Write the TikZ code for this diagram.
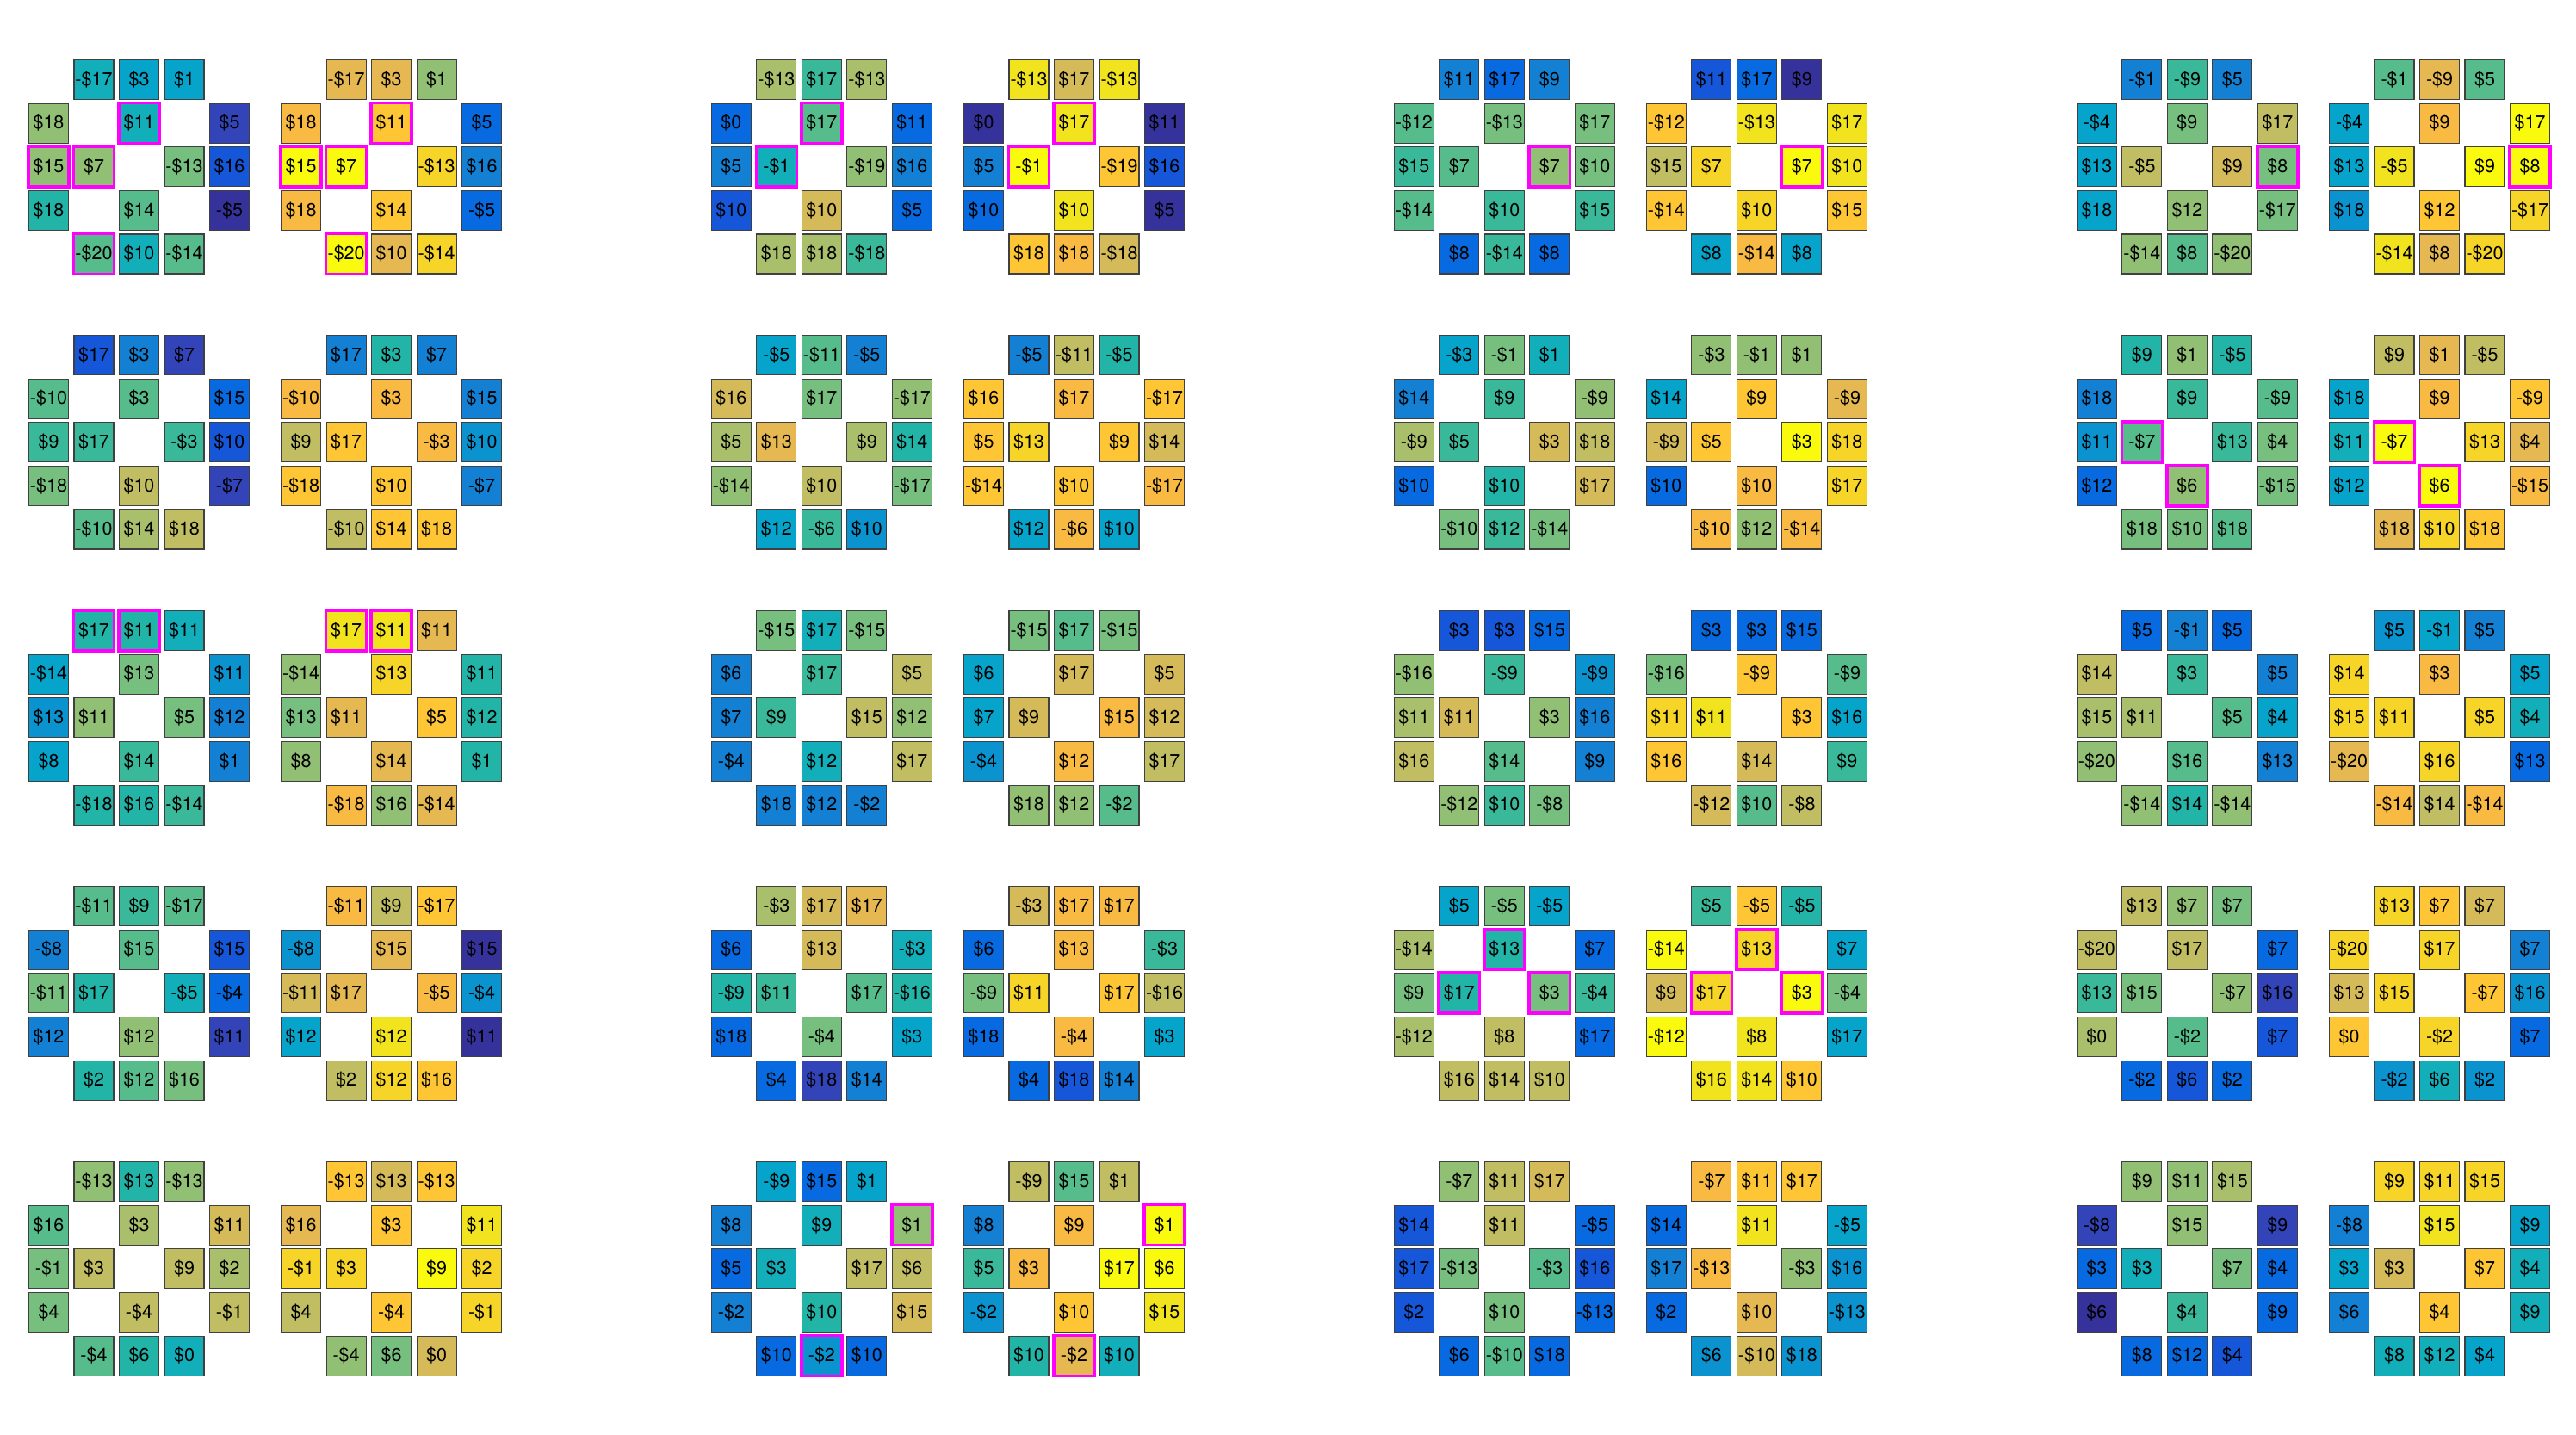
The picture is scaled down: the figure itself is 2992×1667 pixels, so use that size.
\documentclass[tikz,border=0pt]{standalone}
\usepackage{fontspec}
\setmainfont{TeX Gyre Heros}
\definecolor{pA}{HTML}{35329B}
\definecolor{pB}{HTML}{3344B8}
\definecolor{pC}{HTML}{1656D8}
\definecolor{pD}{HTML}{076AE0}
\definecolor{pE}{HTML}{1380D4}
\definecolor{pF}{HTML}{0B93CF}
\definecolor{pG}{HTML}{06A4CA}
\definecolor{pH}{HTML}{12AEBA}
\definecolor{pI}{HTML}{23B4A8}
\definecolor{pJ}{HTML}{3AB99A}
\definecolor{pK}{HTML}{56BC8B}
\definecolor{pL}{HTML}{76BF7E}
\definecolor{pM}{HTML}{91BF74}
\definecolor{pN}{HTML}{AABF6B}
\definecolor{pO}{HTML}{C0BD62}
\definecolor{pP}{HTML}{D5BA59}
\definecolor{pQ}{HTML}{E6B851}
\definecolor{pR}{HTML}{F8BA42}
\definecolor{pS}{HTML}{FEC634}
\definecolor{pT}{HTML}{F6D428}
\definecolor{pU}{HTML}{F1E41E}
\definecolor{pV}{HTML}{F9FA0E}
\definecolor{cellline}{HTML}{404040}
\definecolor{hlmag}{HTML}{FF00FF}
\tikzset{
  cellbox/.style={draw=cellline, line width=1.1pt, minimum width=46pt, minimum height=46pt,
    inner sep=0pt, text=black, font=\fontsize{21.5}{25}\selectfont},
  hlbox/.style={draw=hlmag, line width=3.6pt},
}
\newcommand{\gridpair}[4]{%
  \foreach \lab/\lc/\rc/\hh [count=\i] in {#4}{%
    \pgfmathtruncatemacro\cc{{1,2,3,0,2,4,0,1,3,4,0,2,4,1,2,3}[\i-1]}%
    \pgfmathtruncatemacro\rr{{0,0,0,1,1,1,2,2,2,2,3,3,3,4,4,4}[\i-1]}%
    \node[cellbox, fill=p\lc] (#1L\i) at ({#2+\cc*52.5+23},{#3+\rr*50.66+23}) {\lab};
    \node[cellbox, fill=p\rc] (#1R\i) at ({#2+293.1+\cc*52.5+23},{#3+\rr*50.66+23}) {\lab};
    \ifnum\hh=1
      \draw[hlbox] (#1L\i.south west) rectangle (#1L\i.north east);
      \draw[hlbox] (#1R\i.south west) rectangle (#1R\i.north east);
    \fi
  }%
}
\begin{document}
\begin{tikzpicture}[x=1pt,y=-1pt]
\fill[white] (0,0) rectangle (2992,1667);
\useasboundingbox (0,0) rectangle (2992,1667);
% column 1
\gridpair{pa}{33.5}{69.4}{-\$17/H/Q/0, \$3/G/Q/0, \$1/G/M/0,
 \$18/M/R/0, \$11/H/S/1, \$5/B/D/0,
 \$15/M/V/1, \$7/M/V/1, -\$13/L/T/0, \$16/C/E/0,
 \$18/I/R/0, \$14/K/S/0, -\$5/A/D/0,
 -\$20/K/V/1, \$10/H/Q/0, -\$14/K/T/0}
\gridpair{pb}{33.5}{389.4}{\$17/C/E/0, \$3/E/I/0, \$7/B/E/0,
 -\$10/K/R/0, \$3/K/R/0, \$15/D/E/0,
 \$9/J/O/0, \$17/J/S/0, -\$3/J/R/0, \$10/C/F/0,
 -\$18/L/S/0, \$10/O/S/0, -\$7/B/E/0,
 -\$10/K/O/0, \$14/N/S/0, \$18/O/S/0}
\gridpair{pc}{33.5}{709.4}{\$17/I/U/1, \$11/I/U/1, \$11/H/Q/0,
 -\$14/G/M/0, \$13/L/T/0, \$11/F/I/0,
 \$13/F/L/0, \$11/M/Q/0, \$5/L/S/0, \$12/E/I/0,
 \$8/G/M/0, \$14/J/Q/0, \$1/E/I/0,
 -\$18/I/R/0, \$16/I/M/0, -\$14/J/Q/0}
\gridpair{pd}{33.5}{1029.4}{-\$11/K/R/0, \$9/J/O/0, -\$17/K/S/0,
 -\$8/E/F/0, \$15/K/Q/0, \$15/C/A/0,
 -\$11/L/P/0, \$17/I/Q/0, -\$5/H/R/0, -\$4/D/F/0,
 \$12/E/G/0, \$12/M/U/0, \$11/B/A/0,
 \$2/I/O/0, \$12/K/T/0, \$16/L/S/0}
\gridpair{pe}{33.5}{1349.4}{-\$13/M/S/0, \$13/I/P/0, -\$13/M/S/0,
 \$16/K/Q/0, \$3/N/S/0, \$11/P/U/0,
 -\$1/L/T/0, \$3/O/T/0, \$9/O/V/0, \$2/N/T/0,
 \$4/L/O/0, -\$4/O/S/0, -\$1/O/T/0,
 -\$4/K/M/0, \$6/I/L/0, \$0/H/P/0}
% column 2
\gridpair{qa}{826.4}{69.4}{-\$13/N/U/0, \$17/J/P/0, -\$13/N/U/0,
 \$0/D/A/0, \$17/K/U/1, \$11/D/A/0,
 \$5/E/E/0, -\$1/H/V/1, -\$19/M/S/0, \$16/E/C/0,
 \$10/C/D/0, \$10/P/U/0, \$5/D/A/0,
 \$18/N/S/0, \$18/N/R/0, -\$18/J/P/0}
\gridpair{qb}{826.4}{389.4}{-\$5/G/E/0, -\$11/K/O/0, -\$5/E/I/0,
 \$16/P/S/0, \$17/L/R/0, -\$17/M/S/0,
 \$5/N/S/0, \$13/Q/T/0, \$9/N/S/0, \$14/I/P/0,
 -\$14/M/S/0, \$10/O/S/0, -\$17/L/R/0,
 \$12/G/G/0, -\$6/J/R/0, \$10/F/G/0}
\gridpair{qc}{826.4}{709.4}{-\$15/L/L/0, \$17/H/K/0, -\$15/L/L/0,
 \$6/E/G/0, \$17/J/P/0, \$5/O/P/0,
 \$7/E/G/0, \$9/J/P/0, \$15/O/R/0, \$12/M/P/0,
 -\$4/E/F/0, \$12/H/R/0, \$17/O/O/0,
 \$18/E/M/0, \$12/E/M/0, -\$2/E/K/0}
\gridpair{qd}{826.4}{1029.4}{-\$3/N/P/0, \$17/P/R/0, \$17/Q/R/0,
 \$6/D/D/0, \$13/P/R/0, -\$3/H/J/0,
 -\$9/I/L/0, \$11/J/T/0, \$17/K/S/0, -\$16/I/O/0,
 \$18/D/D/0, -\$4/L/R/0, \$3/G/G/0,
 \$4/D/D/0, \$18/B/C/0, \$14/E/E/0}
\gridpair{qe}{826.4}{1349.4}{-\$9/G/O/0, \$15/D/K/0, \$1/G/O/0,
 \$8/E/E/0, \$9/H/R/0, \$1/M/V/1,
 \$5/D/J/0, \$3/H/R/0, \$17/O/V/0, \$6/O/V/0,
 -\$2/E/F/0, \$10/I/S/0, \$15/P/U/0,
 \$10/D/I/0, -\$2/F/Q/1, \$10/D/H/0}
% column 3
\gridpair{ra}{1619.3}{69.4}{\$11/E/C/0, \$17/D/D/0, \$9/E/A/0,
 -\$12/K/S/0, -\$13/L/U/0, \$17/L/U/0,
 \$15/J/O/0, \$7/K/T/0, \$7/M/V/1, \$10/L/U/0,
 -\$14/K/S/0, \$10/J/T/0, \$15/J/S/0,
 \$8/D/G/0, -\$14/J/R/0, \$8/D/G/0}
\gridpair{rb}{1619.3}{389.4}{-\$3/G/M/0, -\$1/L/M/0, \$1/H/M/0,
 \$14/E/G/0, \$9/J/S/0, -\$9/M/Q/0,
 -\$9/N/P/0, \$5/J/S/0, \$3/P/V/0, \$18/O/T/0,
 \$10/D/D/0, \$10/I/R/0, \$17/P/T/0,
 -\$10/L/R/0, \$12/J/M/0, -\$14/L/R/0}
\gridpair{rc}{1619.3}{709.4}{\$3/C/D/0, \$3/C/D/0, \$15/D/D/0,
 -\$16/M/L/0, -\$9/J/S/0, -\$9/F/K/0,
 \$11/N/T/0, \$11/P/U/0, \$3/M/S/0, \$16/E/G/0,
 \$16/O/S/0, \$14/K/P/0, \$9/E/J/0,
 -\$12/M/P/0, \$10/J/K/0, -\$8/L/O/0}
\gridpair{rd}{1619.3}{1029.4}{\$5/G/J/0, -\$5/L/S/0, -\$5/G/I/0,
 -\$14/N/V/0, \$13/I/T/1, \$7/D/G/0,
 \$9/L/P/0, \$17/I/T/1, \$3/L/V/1, -\$4/J/L/0,
 -\$12/N/V/0, \$8/O/U/0, \$17/D/G/0,
 \$16/O/U/0, \$14/O/U/0, \$10/O/S/0}
\gridpair{re}{1619.3}{1349.4}{-\$7/M/R/0, \$11/O/S/0, \$17/P/S/0,
 \$14/C/D/0, \$11/O/U/0, -\$5/D/G/0,
 \$17/C/E/0, -\$13/L/R/0, -\$3/K/M/0, \$16/C/F/0,
 \$2/C/D/0, \$10/L/Q/0, -\$13/D/F/0,
 \$6/D/F/0, -\$10/K/P/0, \$18/D/F/0}
% column 4
\gridpair{sa}{2412.4}{69.4}{-\$1/E/K/0, -\$9/J/Q/0, \$5/E/K/0,
 -\$4/G/G/0, \$9/L/R/0, \$17/O/V/0,
 \$13/G/G/0, -\$5/O/U/0, \$9/P/V/0, \$8/L/V/1,
 \$18/G/F/0, \$12/M/S/0, -\$17/L/T/0,
 -\$14/M/U/0, \$8/K/Q/0, -\$20/M/T/0}
\gridpair{sb}{2412.4}{389.4}{\$9/I/O/0, \$1/M/Q/0, -\$5/I/O/0,
 \$18/E/G/0, \$9/J/R/0, -\$9/K/S/0,
 \$11/F/H/0, -\$7/K/V/1, \$13/J/T/0, \$4/L/Q/0,
 \$12/D/G/0, \$6/M/V/1, -\$15/L/R/0,
 \$18/L/Q/0, \$10/L/T/0, \$18/K/S/0}
\gridpair{sc}{2412.4}{709.4}{\$5/D/F/0, -\$1/E/G/0, \$5/D/E/0,
 \$14/O/T/0, \$3/J/R/0, \$5/E/G/0,
 \$15/N/T/0, \$11/N/T/0, \$5/K/T/0, \$4/G/H/0,
 -\$20/M/Q/0, \$16/K/T/0, \$13/E/D/0,
 -\$14/M/R/0, \$14/I/O/0, -\$14/M/R/0}
\gridpair{sd}{2412.4}{1029.4}{\$13/O/T/0, \$7/M/S/0, \$7/L/P/0,
 -\$20/O/T/0, \$17/O/T/0, \$7/D/E/0,
 \$13/J/P/0, \$15/L/T/0, -\$7/M/S/0, \$16/B/F/0,
 \$0/N/S/0, -\$2/K/T/0, \$7/C/D/0,
 -\$2/D/F/0, \$6/C/H/0, \$2/D/F/0}
\gridpair{se}{2412.4}{1349.4}{\$9/M/T/0, \$11/M/T/0, \$15/N/T/0,
 -\$8/B/E/0, \$15/M/U/0, \$9/B/G/0,
 \$3/D/G/0, \$3/H/P/0, \$7/L/S/0, \$4/D/H/0,
 \$6/A/E/0, \$4/J/S/0, \$9/D/H/0,
 \$8/D/H/0, \$12/D/H/0, \$4/C/G/0}
\end{tikzpicture}
\end{document}
